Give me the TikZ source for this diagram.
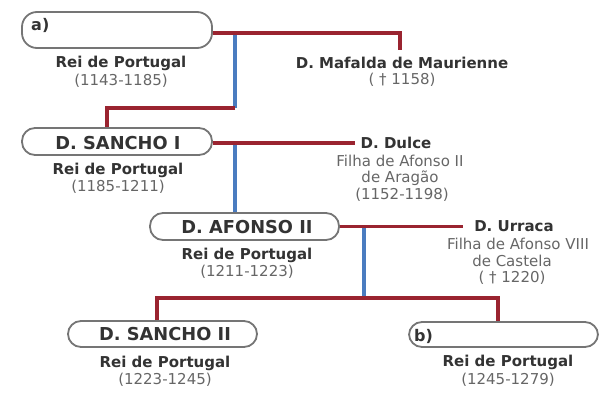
\documentclass[tikz,border=0pt]{standalone}
\usepackage{fontspec}
\setmainfont{DejaVu Sans}
\definecolor{lred}{HTML}{9A2430}
\definecolor{lblue}{HTML}{4A7CC0}
\definecolor{bgray}{HTML}{757575}
\definecolor{tdark}{HTML}{333333}
\definecolor{tlight}{HTML}{666666}
\tikzset{
  pill/.style={draw=bgray, line width=1.8pt, rounded corners=13pt, fill=white,
    minimum width=190pt, inner sep=0pt},
  kname/.style={font=\fontsize{17.8}{17.8}\selectfont\bfseries, text=tdark, inner sep=0pt},
  klbl/.style={font=\fontsize{16}{16}\selectfont\bfseries, text=tdark, inner sep=0pt, anchor=west},
  krole/.style={font=\fontsize{15}{15}\selectfont\bfseries, text=tdark, inner sep=0pt},
  kinfo/.style={font=\fontsize{15}{15}\selectfont, text=tlight, inner sep=0pt},
  redline/.style={draw=lred, line width=3.2pt},
  blueline/.style={draw=lblue, line width=3.4pt},
}
\begin{document}
\begin{tikzpicture}[x=1pt,y=-1pt]
\useasboundingbox (0,0) rectangle (606,396);

% boxes
\node[pill, minimum height=36pt, rounded corners=15pt] (A) at (117,30) {};
\node[pill, minimum height=27pt] (S1) at (117,141.5) {};
\node[pill, minimum height=27pt, minimum width=189pt] (A2) at (244.5,226.5) {};
\node[pill, minimum height=26pt, minimum width=189pt] (S2) at (162.5,334) {};
\node[pill, minimum height=25pt, minimum width=189pt] (B) at (503.5,334.5) {};

% connector points
\coordinate (m1) at (400,33);
\coordinate (m1d) at (400,50);
\coordinate (c1) at (235,33);
\coordinate (c1d) at (235,108);
\coordinate (c1l) at (107,108);
\coordinate (d1) at (355,143);
\coordinate (c2) at (235,143);
\coordinate (u1) at (463,226.5);
\coordinate (c3) at (364,226.5);
\coordinate (c3d) at (364,298);
\coordinate (hl) at (157,298);
\coordinate (hr) at (498,298);

% lines
\draw[blueline] (c1) -- (c1d);
\draw[blueline] (c2) -- (c2 |- A2.north);
\draw[blueline] (c3) -- (c3d);
\draw[redline] (A.east |- m1) -- (m1) -- (m1d);
\draw[redline, line join=miter] (c1d) -- (c1l) -- (c1l |- S1.north);
\draw[redline] (S1.east |- d1) -- (d1);
\draw[redline] (A2.east) -- (u1);
\draw[redline, line join=miter] (hl |- S2.north) -- (hl) -- (hr) -- (hr |- B.north);

% box texts
\node[klbl] (at) at (31,25) {a)};
\node[kname] (s1t) at (118,143) {D. SANCHO I};
\node[kname] (a2t) at (247,227) {D. AFONSO II};
\node[kname] (s2t) at (165,334) {D. SANCHO II};
\node[klbl] (bt) at (414,336) {b)};

% labels
\node[krole] (r1) at (121,63) {Rei de Portugal};
\node[kinfo] (d1t) at (121,80.5) {(1143-1185)};
\node[krole] (maf) at (402,63) {D. Mafalda de Maurienne};
\node[kinfo] (maft) at (402,80) {( † 1158)};

\node[krole] (r2) at (118,170) {Rei de Portugal};
\node[kinfo] (d2t) at (118,187) {(1185-1211)};
\node[krole] (dul) at (396,143) {D. Dulce};
\node[kinfo] (dul1) at (400,161) {Filha de Afonso II};
\node[kinfo] (dul2) at (400,178) {de Aragão};
\node[kinfo] (dul3) at (402,195) {(1152-1198)};

\node[krole] (r3) at (247,255) {Rei de Portugal};
\node[kinfo] (d3t) at (247,272) {(1211-1223)};
\node[krole] (urr) at (514,226.5) {D. Urraca};
\node[kinfo] (urr1) at (518,244) {Filha de Afonso VIII};
\node[kinfo] (urr2) at (512,261) {de Castela};
\node[kinfo] (urr3) at (512,278) {( † 1220)};

\node[krole] (r4) at (165,363) {Rei de Portugal};
\node[kinfo] (d4t) at (165,380) {(1223-1245)};
\node[krole] (r5) at (508,362) {Rei de Portugal};
\node[kinfo] (d5t) at (508,380) {(1245-1279)};
\end{tikzpicture}
\end{document}
